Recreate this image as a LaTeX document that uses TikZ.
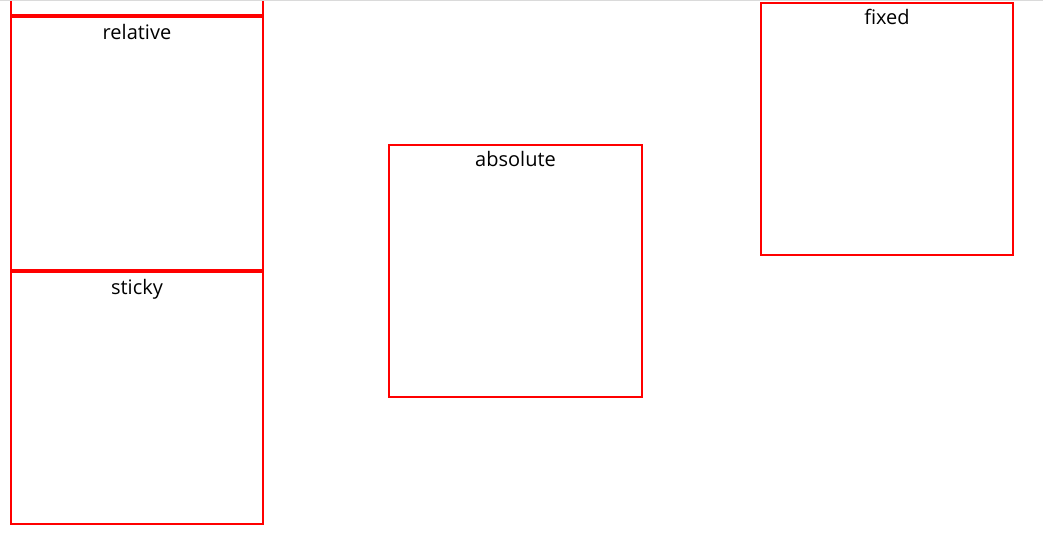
\documentclass[tikz,border=0pt]{standalone}
\usepackage{fontspec}
\setmainfont{Open Sans}
\usepackage{tikz}
\usetikzlibrary{positioning}

\definecolor{boxred}{RGB}{255,0,0}
\definecolor{topgray}{RGB}{218,218,218}

\tikzset{
	posbox/.style={draw=boxred, line width=2pt, minimum width=252pt, inner sep=0pt},
	poslabel/.style={anchor=base, font=\fontsize{20}{24}\selectfont, text=black}
}

\begin{document}
\begin{tikzpicture}[x=1pt,y=-1pt]
			
			\useasboundingbox (0,0) rectangle (1043,542);
			
			% the box scrolled out above
			\draw[boxred, line width=2pt] (11,0)--(11,15)--(263,15)--(263,0);
			
			\node[posbox, minimum height=253pt] (relative) at (137,143.5) {};
			\node[posbox, minimum height=252pt] (sticky) at (137,398) {};
			\node[posbox, minimum height=252pt, minimum width=253pt] (absolute) at (515.5,271) {};
			\node[posbox, minimum height=252.5pt] (fixed) at (887,128.75) {};
			
			\node[poslabel] (relativeLbl) at ([yshift=-23pt]relative.north) {relative};
			\node[poslabel] (stickyLbl) at ([yshift=-23pt]sticky.north) {sticky};
			\node[poslabel] (absoluteLbl) at ([yshift=-22.5pt]absolute.north) {absolute};
			\node[poslabel] (fixedLbl) at ([yshift=-22.5pt]fixed.north) {fixed};
			
			\fill[topgray] (0,0) rectangle (1043,1);
		\end{tikzpicture}
\end{document}
